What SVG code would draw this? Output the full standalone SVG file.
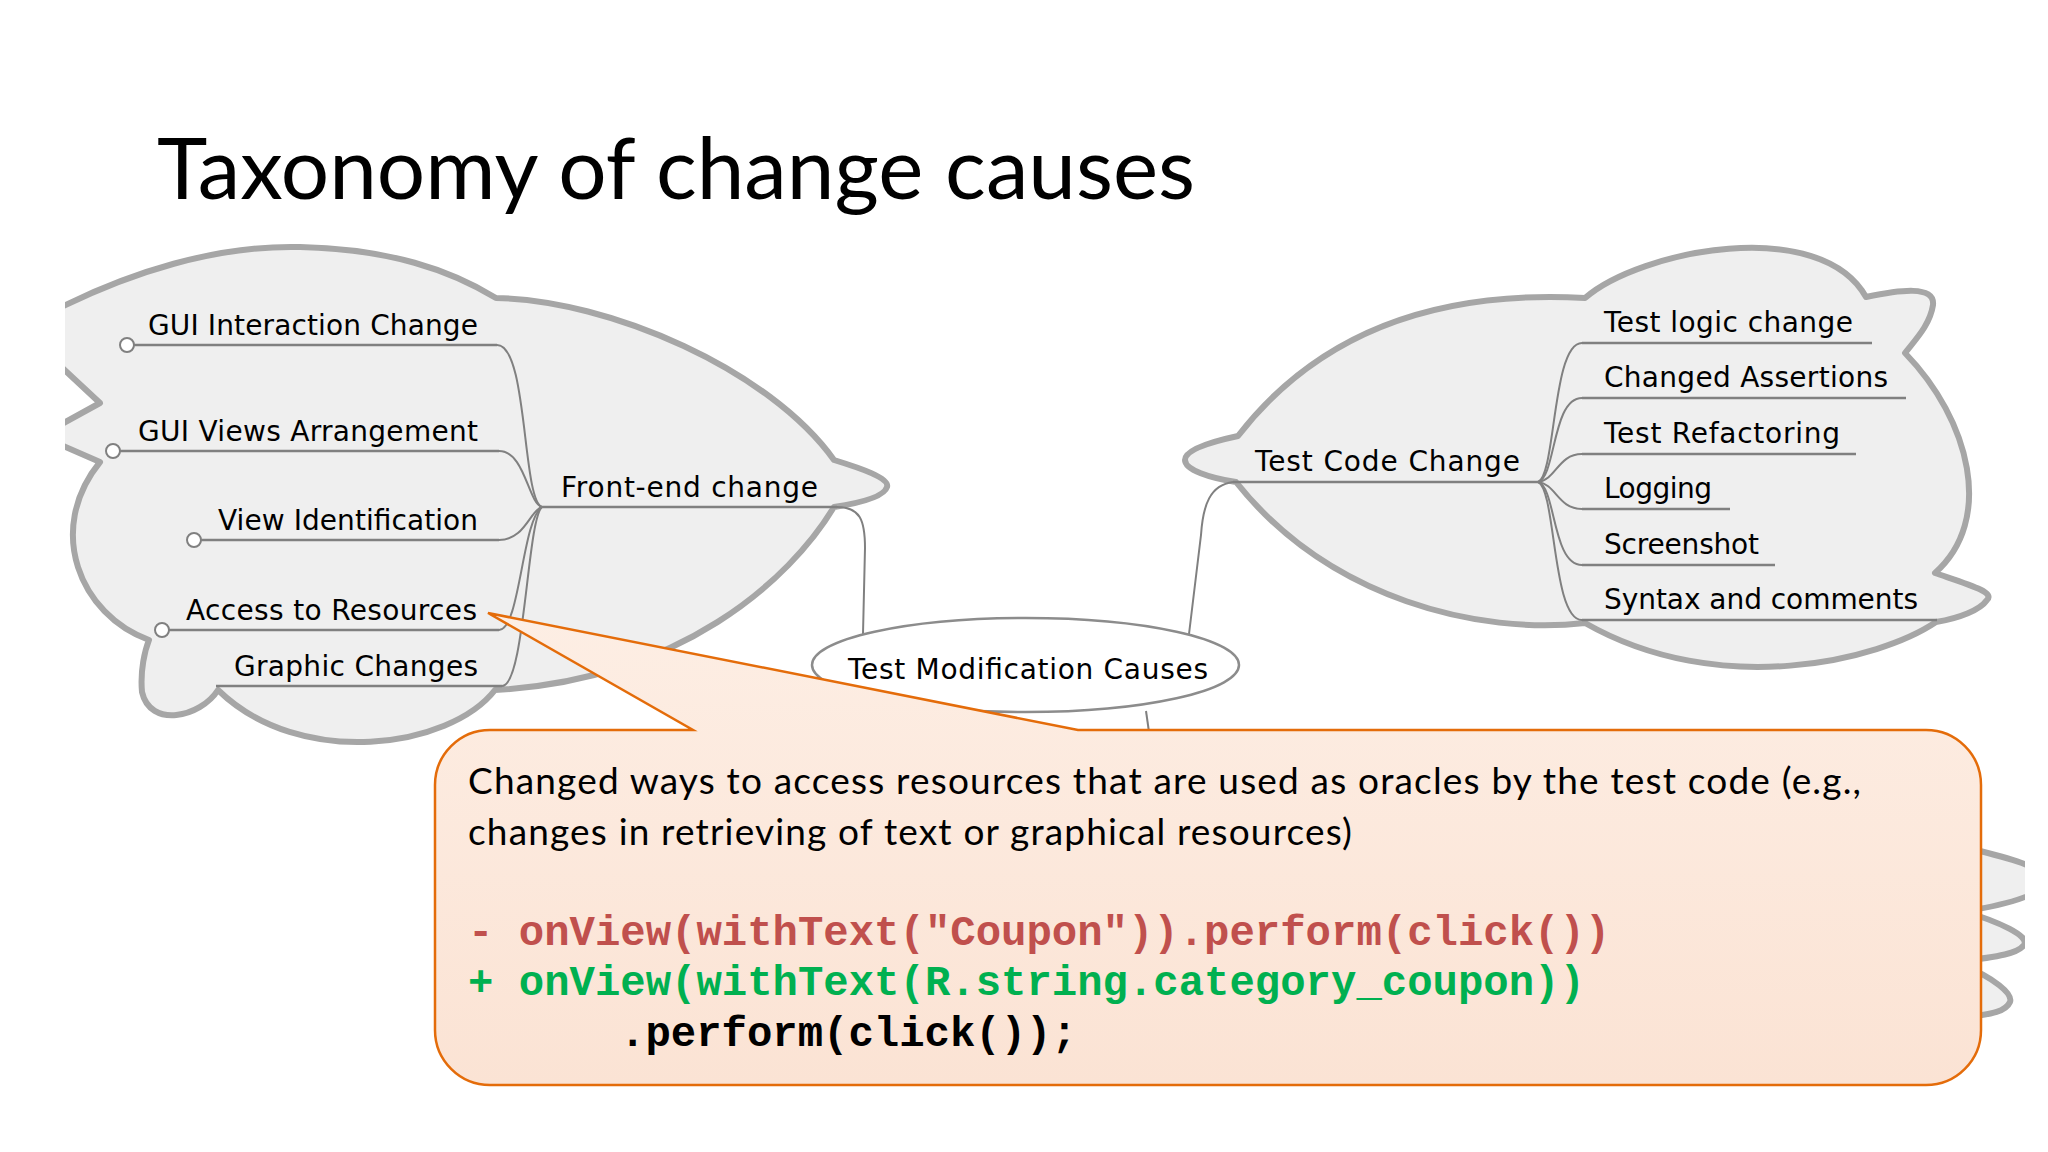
<svg xmlns="http://www.w3.org/2000/svg" width="2048" height="1152" viewBox="0 0 2048 1152">
<style>
.cloud{fill:#efefef;stroke:#a6a6a6;stroke-width:6;stroke-linejoin:round}
.lbl{font-family:"DejaVu Sans",sans-serif;font-size:28px;fill:#000}
.ul{fill:none;stroke:#808080;stroke-width:2.5}
.con{fill:none;stroke:#808080;stroke-width:2}
.dot{fill:#fff;stroke:#808080;stroke-width:2}
.body{font-family:Lato,"Liberation Sans",sans-serif;font-size:37px;fill:#000}
.code{font-family:"Liberation Mono",monospace;font-weight:bold;font-size:42.3px}
</style>
<defs>
<clipPath id="clipL"><rect x="65" y="0" width="1960" height="1152"/></clipPath>
<linearGradient id="peach" x1="0" y1="0" x2="0" y2="1">
<stop offset="0" stop-color="#fdeee4"/>
<stop offset="1" stop-color="#fbe3d4"/>
</linearGradient>
</defs>
<rect width="2048" height="1152" fill="#fff"/>
<text x="157" y="199" font-family="Lato,'Liberation Sans',sans-serif" font-size="86" textLength="1038" lengthAdjust="spacingAndGlyphs" fill="#000">Taxonomy of change causes</text>

<g id="clouds" clip-path="url(#clipL)">
<path id="cloud-left" class="cloud" d="M 40,318 C 130,270 220,245 300,247 C 390,249 450,270 496,298 C 610,300 770,370 834,460 C 860,468 890,478 887,487 C 884,497 860,503 834,507 C 790,580 680,680 495,690 C 450,748 300,770 218,690 C 200,718 150,728 142,692 C 140,670 145,650 149,640 C 80,615 45,530 100,462 L 40,436 L 100,403 L 40,347 Z"/>
<path id="cloud-right" class="cloud" d="M 1238,436 C 1320,330 1440,290 1585,298 C 1640,250 1820,215 1866,297 C 1900,290 1935,285 1933,305 C 1930,325 1915,340 1905,353 C 1970,420 1995,520 1935,573 C 1970,585 1995,592 1987,600 C 1980,610 1960,618 1936,622 C 1880,660 1720,700 1585,623 C 1480,635 1330,600 1236,482 C 1210,478 1185,470 1185,460 C 1185,450 1210,442 1238,436 Z"/>
<path class="cloud" d="M 1960,846 C 2000,856 2045,866 2045,880 C 2045,896 2000,906 1960,912"/>
<path class="cloud" d="M 1960,910 C 2000,922 2030,936 2024,945 C 2018,953 2000,957 1960,961"/>
<path class="cloud" d="M 1960,964 C 1995,978 2013,994 2010,1002 C 2006,1011 1995,1014 1960,1018"/>
</g>

<g id="connectors">
<path class="con" d="M 837,507 C 860,507 865,520 865,548 L 863,634"/>
<path class="con" d="M 1233,482 C 1210,485 1203,505 1201,535 L 1189,634"/>
<path class="con" d="M 1146,711 L 1149,732"/>
<path class="con" d="M 497,345 C 528,345 522,500 542,507"/>
<path class="con" d="M 499,451 C 525,451 528,503 542,507"/>
<path class="con" d="M 499,540 C 525,540 530,510 542,507"/>
<path class="con" d="M 499,630 C 520,630 522,520 542,507"/>
<path class="con" d="M 502,686 C 525,686 527,520 542,507"/>
<path class="con" d="M 1538,482 C 1556,475 1552,343 1582,343"/>
<path class="con" d="M 1538,482 C 1556,477 1552,398 1582,398"/>
<path class="con" d="M 1538,482 C 1556,480 1558,454 1582,454"/>
<path class="con" d="M 1538,482 C 1556,484 1558,509 1582,509"/>
<path class="con" d="M 1538,482 C 1556,487 1552,565 1582,565"/>
<path class="con" d="M 1538,482 C 1556,489 1552,620 1582,620"/>
</g>

<g id="n-frontend"><text class="lbl" x="561" y="497" textLength="257">Front-end change</text><path class="ul" d="M 540,507 H 837"/></g>
<g id="n-gui-interaction"><text class="lbl" x="148" y="335" textLength="330">GUI Interaction Change</text><path class="ul" d="M 134,345 H 497"/><circle class="dot" cx="127" cy="345" r="7"/></g>
<g id="n-gui-views"><text class="lbl" x="138" y="441" textLength="340">GUI Views Arrangement</text><path class="ul" d="M 120,451 H 499"/><circle class="dot" cx="113" cy="451" r="7"/></g>
<g id="n-view-id"><text class="lbl" x="218" y="530" textLength="260">View Identification</text><path class="ul" d="M 201,540 H 499"/><circle class="dot" cx="194" cy="540" r="7"/></g>
<g id="n-access"><text class="lbl" x="186" y="620" textLength="291">Access to Resources</text><path class="ul" d="M 169,630 H 499"/><circle class="dot" cx="162" cy="630" r="7"/></g>
<g id="n-graphic"><text class="lbl" x="234" y="676" textLength="244">Graphic Changes</text><path class="ul" d="M 216,686 H 502"/></g>

<g id="n-testcode"><text class="lbl" x="1255" y="471" textLength="265">Test Code Change</text><path class="ul" d="M 1233,482 H 1538"/></g>
<g id="n-logic"><text class="lbl" x="1604" y="332" textLength="249">Test logic change</text><path class="ul" d="M 1582,343 H 1872"/></g>
<g id="n-assert"><text class="lbl" x="1604" y="387" textLength="284">Changed Assertions</text><path class="ul" d="M 1582,398 H 1906"/></g>
<g id="n-refactor"><text class="lbl" x="1604" y="443" textLength="236">Test Refactoring</text><path class="ul" d="M 1582,454 H 1856"/></g>
<g id="n-logging"><text class="lbl" x="1604" y="498" textLength="108">Logging</text><path class="ul" d="M 1582,509 H 1730"/></g>
<g id="n-screenshot"><text class="lbl" x="1604" y="554" textLength="155">Screenshot</text><path class="ul" d="M 1582,565 H 1775"/></g>
<g id="n-syntax"><text class="lbl" x="1604" y="609" textLength="314">Syntax and comments</text><path class="ul" d="M 1582,620 H 1937"/></g>

<g id="n-root"><ellipse cx="1025.5" cy="665" rx="213.5" ry="47" fill="#fff" stroke="#8c8c8c" stroke-width="2.5"/><text class="lbl" x="848" y="679" textLength="360">Test Modification Causes</text></g>

<g id="callout">
<path d="M 490,730 L 693,730 L 488,613 L 1078,730 L 1926,730 A 55 55 0 0 1 1981,785 L 1981,1030 A 55 55 0 0 1 1926,1085 L 490,1085 A 55 55 0 0 1 435,1030 L 435,785 A 55 55 0 0 1 490,730 Z" fill="url(#peach)" stroke="#e46c0a" stroke-width="2.5" stroke-linejoin="miter"/>
<text class="body" x="468" y="794" textLength="1393">Changed ways to access resources that are used as oracles by the test code (e.g.,</text>
<text class="body" x="468" y="845" textLength="884">changes in retrieving of text or graphical resources)</text>
<text class="code" x="468" y="945" fill="#c0504d" xml:space="preserve">- onView(withText("Coupon")).perform(click())</text>
<text class="code" x="468" y="995" fill="#00b050" xml:space="preserve">+ onView(withText(R.string.category_coupon))</text>
<text class="code" x="620" y="1046" fill="#000">.perform(click());</text>
</g>
</svg>
